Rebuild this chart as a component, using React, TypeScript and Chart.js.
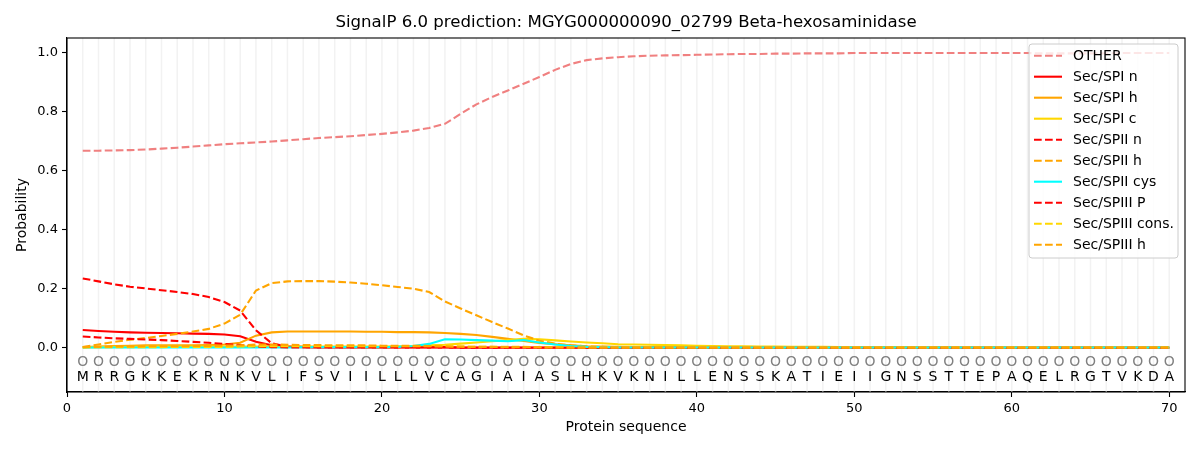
import { useEffect, useRef } from "react";
import { Chart, ChartConfiguration, Plugin, registerables } from "chart.js";

Chart.register(...registerables);

// protein sequence shown under the curves
const sequence = "MRRGKKEKRNKVLIFSVIILLLVCAGIAIASLHKVKNILLENSSKATIEIIGNSSTTEPAQELRGTVKDA".split("");
const positions = sequence.map((_, i) => i + 1);

const other = [
  0.668, 0.668, 0.669, 0.670, 0.672, 0.675, 0.678, 0.682, 0.686, 0.690,
  0.693, 0.696, 0.699, 0.703, 0.707, 0.711, 0.714, 0.717, 0.721, 0.725,
  0.730, 0.736, 0.745, 0.759, 0.793, 0.825, 0.850, 0.872, 0.895, 0.918,
  0.942, 0.962, 0.975, 0.981, 0.985, 0.988, 0.990, 0.991, 0.992, 0.993,
  0.994, 0.995, 0.996, 0.996, 0.997, 0.997, 0.998, 0.998, 0.998, 0.999,
  0.999, 0.999, 0.999, 0.999, 0.999, 0.999, 0.999, 0.999, 0.999, 0.999,
  0.999, 0.998, 0.998, 0.998, 0.998, 0.998, 0.999, 0.999, 0.999, 0.999,
];
const spiN = [
  0.060, 0.057, 0.054, 0.052, 0.051, 0.050, 0.049, 0.048, 0.047, 0.045,
  0.039, 0.020, 0.008, 0.004, 0.003, 0.002, 0.002, 0.002, 0.002, 0.002,
  0.002, 0.002, 0.002, 0.002, 0.001, 0.001, 0.001, 0.001, 0.001, 0.001,
  0.001, 0.001, 0.000, 0.000, 0.000, 0.000, 0.000, 0.000, 0.000, 0.000,
  0.000, 0.000, 0.000, 0.000, 0.000, 0.000, 0.000, 0.000, 0.000, 0.000,
  0.000, 0.000, 0.000, 0.000, 0.000, 0.000, 0.000, 0.000, 0.000, 0.000,
  0.000, 0.000, 0.000, 0.000, 0.000, 0.000, 0.000, 0.000, 0.000, 0.000,
];
const spiH = [
  0.002, 0.004, 0.006, 0.007, 0.008, 0.008, 0.008, 0.008, 0.009, 0.011,
  0.017, 0.041, 0.052, 0.055, 0.055, 0.055, 0.055, 0.055, 0.054, 0.054,
  0.053, 0.053, 0.052, 0.050, 0.047, 0.043, 0.037, 0.030, 0.023, 0.016,
  0.012, 0.008, 0.005, 0.004, 0.003, 0.002, 0.002, 0.002, 0.001, 0.001,
  0.001, 0.001, 0.001, 0.001, 0.001, 0.001, 0.001, 0.001, 0.001, 0.001,
  0.001, 0.001, 0.001, 0.001, 0.001, 0.001, 0.001, 0.001, 0.001, 0.001,
  0.001, 0.001, 0.001, 0.001, 0.001, 0.001, 0.001, 0.001, 0.001, 0.001,
];
const spiC = [
  0.001, 0.002, 0.003, 0.003, 0.004, 0.004, 0.004, 0.004, 0.004, 0.004,
  0.004, 0.004, 0.004, 0.004, 0.004, 0.004, 0.004, 0.004, 0.004, 0.004,
  0.005, 0.006, 0.008, 0.010, 0.014, 0.018, 0.022, 0.026, 0.030, 0.029,
  0.025, 0.021, 0.018, 0.015, 0.012, 0.011, 0.010, 0.009, 0.008, 0.007,
  0.006, 0.005, 0.005, 0.004, 0.004, 0.003, 0.003, 0.003, 0.002, 0.002,
  0.002, 0.002, 0.002, 0.002, 0.002, 0.001, 0.001, 0.001, 0.001, 0.001,
  0.001, 0.001, 0.001, 0.001, 0.001, 0.001, 0.001, 0.001, 0.001, 0.001,
];
const spiiN = [
  0.235, 0.225, 0.215, 0.207, 0.201, 0.195, 0.189, 0.182, 0.172, 0.155,
  0.126, 0.059, 0.015, 0.004, 0.002, 0.001, 0.001, 0.001, 0.001, 0.001,
  0.001, 0.001, 0.001, 0.001, 0.000, 0.000, 0.000, 0.000, 0.000, 0.000,
  0.000, 0.000, 0.000, 0.000, 0.000, 0.000, 0.000, 0.000, 0.000, 0.000,
  0.000, 0.000, 0.000, 0.000, 0.000, 0.000, 0.000, 0.000, 0.000, 0.000,
  0.000, 0.000, 0.000, 0.000, 0.000, 0.000, 0.000, 0.000, 0.000, 0.000,
  0.000, 0.000, 0.000, 0.000, 0.000, 0.000, 0.000, 0.000, 0.000, 0.000,
];
const spiiH = [
  0.002, 0.011, 0.020, 0.027, 0.033, 0.040, 0.047, 0.055, 0.064, 0.082,
  0.112, 0.194, 0.219, 0.225, 0.226, 0.226, 0.224, 0.221, 0.217, 0.212,
  0.206, 0.200, 0.189, 0.157, 0.133, 0.110, 0.087, 0.065, 0.042, 0.024,
  0.014, 0.008, 0.005, 0.003, 0.002, 0.002, 0.001, 0.001, 0.001, 0.001,
  0.000, 0.000, 0.000, 0.000, 0.000, 0.000, 0.000, 0.000, 0.000, 0.000,
  0.000, 0.000, 0.000, 0.000, 0.000, 0.000, 0.000, 0.000, 0.000, 0.000,
  0.000, 0.000, 0.000, 0.000, 0.000, 0.000, 0.000, 0.000, 0.000, 0.000,
];
const spiiCys = [
  0.001, 0.001, 0.001, 0.001, 0.001, 0.001, 0.001, 0.001, 0.001, 0.001,
  0.001, 0.001, 0.001, 0.001, 0.002, 0.002, 0.002, 0.002, 0.002, 0.002,
  0.003, 0.006, 0.013, 0.029, 0.028, 0.026, 0.024, 0.022, 0.026, 0.018,
  0.011, 0.006, 0.003, 0.002, 0.001, 0.001, 0.001, 0.001, 0.001, 0.001,
  0.001, 0.001, 0.001, 0.001, 0.001, 0.001, 0.001, 0.001, 0.001, 0.001,
  0.001, 0.001, 0.001, 0.001, 0.001, 0.001, 0.001, 0.001, 0.001, 0.001,
  0.001, 0.001, 0.001, 0.001, 0.001, 0.001, 0.001, 0.001, 0.001, 0.001,
];
const spiiiP = [
  0.038, 0.035, 0.032, 0.030, 0.028, 0.026, 0.023, 0.020, 0.017, 0.013,
  0.009, 0.004, 0.002, 0.001, 0.001, 0.001, 0.001, 0.001, 0.001, 0.001,
  0.001, 0.001, 0.001, 0.001, 0.001, 0.001, 0.001, 0.001, 0.001, 0.001,
  0.000, 0.000, 0.000, 0.000, 0.000, 0.000, 0.000, 0.000, 0.000, 0.000,
  0.000, 0.000, 0.000, 0.000, 0.000, 0.000, 0.000, 0.000, 0.000, 0.000,
  0.000, 0.000, 0.000, 0.000, 0.000, 0.000, 0.000, 0.000, 0.000, 0.000,
  0.000, 0.000, 0.000, 0.000, 0.000, 0.000, 0.000, 0.000, 0.000, 0.000,
];
const spiiiCons = [
  0.001, 0.002, 0.002, 0.002, 0.002, 0.002, 0.003, 0.003, 0.003, 0.003,
  0.004, 0.005, 0.005, 0.005, 0.005, 0.005, 0.005, 0.005, 0.005, 0.005,
  0.005, 0.005, 0.005, 0.005, 0.004, 0.003, 0.003, 0.003, 0.003, 0.002,
  0.002, 0.001, 0.001, 0.001, 0.001, 0.001, 0.001, 0.001, 0.001, 0.001,
  0.001, 0.001, 0.001, 0.001, 0.001, 0.001, 0.001, 0.001, 0.001, 0.001,
  0.001, 0.001, 0.001, 0.001, 0.001, 0.001, 0.001, 0.001, 0.001, 0.001,
  0.001, 0.001, 0.001, 0.001, 0.001, 0.001, 0.001, 0.001, 0.001, 0.001,
];
const spiiiH = [
  0.002, 0.003, 0.004, 0.004, 0.005, 0.005, 0.005, 0.006, 0.006, 0.007,
  0.008, 0.011, 0.011, 0.010, 0.009, 0.009, 0.008, 0.008, 0.008, 0.007,
  0.007, 0.007, 0.006, 0.005, 0.004, 0.003, 0.003, 0.002, 0.002, 0.002,
  0.001, 0.001, 0.001, 0.001, 0.001, 0.001, 0.001, 0.001, 0.001, 0.001,
  0.001, 0.001, 0.001, 0.001, 0.001, 0.001, 0.001, 0.001, 0.001, 0.001,
  0.001, 0.001, 0.001, 0.001, 0.001, 0.001, 0.001, 0.001, 0.001, 0.001,
  0.001, 0.001, 0.001, 0.001, 0.001, 0.001, 0.001, 0.001, 0.001, 0.001,
];

const xTicks = [0, 10, 20, 30, 40, 50, 60, 70];
const yTicks = [0, 0.2, 0.4, 0.6, 0.8, 1.0];

const TITLE = "SignalP 6.0 prediction: MGYG000000090_02799 Beta-hexosaminidase";
const FONT = "'DejaVu Sans', sans-serif";
const DASH = [7.7, 3.3];

const series = [
  { label: "OTHER", values: other, color: "#f08080", dashed: true },
  { label: "Sec/SPI n", values: spiN, color: "#ff0000", dashed: false },
  { label: "Sec/SPI h", values: spiH, color: "#ffa500", dashed: false },
  { label: "Sec/SPI c", values: spiC, color: "#ffd700", dashed: false },
  { label: "Sec/SPII n", values: spiiN, color: "#ff0000", dashed: true },
  { label: "Sec/SPII h", values: spiiH, color: "#ffa500", dashed: true },
  { label: "Sec/SPII cys", values: spiiCys, color: "#00ffff", dashed: false },
  { label: "Sec/SPIII P", values: spiiiP, color: "#ff0000", dashed: true },
  { label: "Sec/SPIII cons.", values: spiiiCons, color: "#ffd700", dashed: true },
  { label: "Sec/SPIII h", values: spiiiH, color: "#ffa500", dashed: true },
];

// background, residue grid, sequence letters, frame, title and legend
const decorations: Plugin<"line"> = {
  id: "decorations",
  beforeDraw(chart) {
    const ctx = chart.ctx;
    ctx.save();
    ctx.fillStyle = "#ffffff";
    ctx.fillRect(0, 0, chart.width, chart.height);
    ctx.restore();
  },
  beforeDatasetsDraw(chart) {
    const { ctx, chartArea } = chart;
    const x = chart.scales.x;
    ctx.save();
    ctx.strokeStyle = "#f2f2f2";
    ctx.lineWidth = 1.5;
    positions.forEach((p) => {
      const px = x.getPixelForValue(p);
      ctx.beginPath();
      ctx.moveTo(px, chartArea.top);
      ctx.lineTo(px, chartArea.bottom);
      ctx.stroke();
    });
    ctx.font = `14px ${FONT}`;
    ctx.textAlign = "center";
    ctx.textBaseline = "middle";
    const y = chart.scales.y;
    positions.forEach((p, i) => {
      const px = x.getPixelForValue(p);
      ctx.fillStyle = "#808080";
      ctx.fillText("O", px, y.getPixelForValue(-0.05));
      ctx.fillStyle = "#000000";
      ctx.fillText(sequence[i], px, y.getPixelForValue(-0.1));
    });
    ctx.restore();
  },
  afterDraw(chart) {
    const { ctx, chartArea } = chart;
    ctx.save();
    ctx.strokeStyle = "#000000";
    ctx.lineWidth = 1.1;
    ctx.strokeRect(chartArea.left, chartArea.top, chartArea.right - chartArea.left, chartArea.bottom - chartArea.top);

    ctx.fillStyle = "#000000";
    ctx.font = `16.6px ${FONT}`;
    ctx.textAlign = "center";
    ctx.textBaseline = "middle";
    ctx.fillText(TITLE, (chartArea.left + chartArea.right) / 2, 23);

    // legend box
    const bx = 1029, by = 44, bw = 149, bh = 214, r = 3;
    ctx.beginPath();
    ctx.moveTo(bx + r, by);
    ctx.lineTo(bx + bw - r, by);
    ctx.arcTo(bx + bw, by, bx + bw, by + r, r);
    ctx.lineTo(bx + bw, by + bh - r);
    ctx.arcTo(bx + bw, by + bh, bx + bw - r, by + bh, r);
    ctx.lineTo(bx + r, by + bh);
    ctx.arcTo(bx, by + bh, bx, by + bh - r, r);
    ctx.lineTo(bx, by + r);
    ctx.arcTo(bx, by, bx + r, by, r);
    ctx.closePath();
    ctx.fillStyle = "rgba(255,255,255,0.8)";
    ctx.fill();
    ctx.strokeStyle = "#cccccc";
    ctx.lineWidth = 1;
    ctx.stroke();

    ctx.font = `14px ${FONT}`;
    ctx.textAlign = "left";
    ctx.textBaseline = "middle";
    series.forEach((s, i) => {
      const ry = 55.7 + i * 21;
      ctx.strokeStyle = s.color;
      ctx.lineWidth = 2.1;
      ctx.setLineDash(s.dashed ? DASH : []);
      ctx.beginPath();
      ctx.moveTo(1034, ry);
      ctx.lineTo(1062, ry);
      ctx.stroke();
      ctx.setLineDash([]);
      ctx.fillStyle = "#000000";
      ctx.fillText(s.label, 1073, ry + 1);
    });
    ctx.restore();
  },
};

export default function App() {
  const canvasRef = useRef<HTMLCanvasElement | null>(null);
  const chartRef = useRef<Chart<"line"> | null>(null);

  useEffect(() => {
    if (!canvasRef.current) return;
    const ctx = canvasRef.current.getContext("2d");
    if (!ctx) return;
    if (chartRef.current) chartRef.current.destroy();

    const n = series.length;
    const config: ChartConfiguration<"line"> = {
      type: "line",
      data: {
        datasets: series.map((s, i) => ({
          label: s.label,
          data: s.values.map((v, j) => ({ x: positions[j], y: v })),
          borderColor: s.color,
          backgroundColor: s.color,
          borderWidth: 2.1,
          borderDash: s.dashed ? DASH : [],
          pointRadius: 0,
          tension: 0,
          fill: false,
          order: n - i,
        })),
      },
      options: {
        animation: false,
        responsive: true,
        maintainAspectRatio: false,
        layout: { padding: { top: 38, right: 15, bottom: 0, left: 0 } },
        plugins: {
          legend: { display: false },
          title: { display: false },
          tooltip: { enabled: false },
        },
        scales: {
          x: {
            type: "linear",
            min: 0,
            max: 71,
            afterBuildTicks: (scale) => {
              scale.ticks = xTicks.map((v) => ({ value: v }));
            },
            afterFit: (scale) => {
              scale.height = 58;
            },
            ticks: {
              color: "#000000",
              font: { family: FONT, size: 13 },
              padding: 4,
              maxRotation: 0,
              callback: (v) => String(v),
            },
            grid: {
              drawOnChartArea: false,
              drawTicks: true,
              tickLength: 5,
              tickColor: "#000000",
              tickWidth: 1.1,
            },
            border: { display: true, color: "#000000", width: 1.1 },
            title: {
              display: true,
              text: "Protein sequence",
              color: "#000000",
              font: { family: FONT, size: 14 },
              padding: { top: 0, bottom: 14 },
            },
          },
          y: {
            type: "linear",
            min: -0.15,
            max: 1.05,
            afterBuildTicks: (scale) => {
              scale.ticks = yTicks.map((v) => ({ value: v }));
            },
            afterFit: (scale) => {
              scale.width = 67;
            },
            ticks: {
              color: "#000000",
              font: { family: FONT, size: 13 },
              padding: 4,
              callback: (v) => Number(v).toFixed(1),
            },
            grid: {
              drawOnChartArea: false,
              drawTicks: true,
              tickLength: 5,
              tickColor: "#000000",
              tickWidth: 1.1,
            },
            border: { display: true, color: "#000000", width: 1.1 },
            title: {
              display: true,
              text: "Probability",
              color: "#000000",
              font: { family: FONT, size: 14 },
              padding: { top: 14, bottom: 0 },
            },
          },
        },
      },
      plugins: [decorations],
    };

    chartRef.current = new Chart(ctx, config);

    return () => {
      if (chartRef.current) {
        chartRef.current.destroy();
        chartRef.current = null;
      }
    };
  }, []);

  return (
    <div style={{ position: "fixed", left: 0, top: 0, width: 1200, height: 450, background: "#fff" }}>
      <canvas ref={canvasRef}></canvas>
    </div>
  );
}
